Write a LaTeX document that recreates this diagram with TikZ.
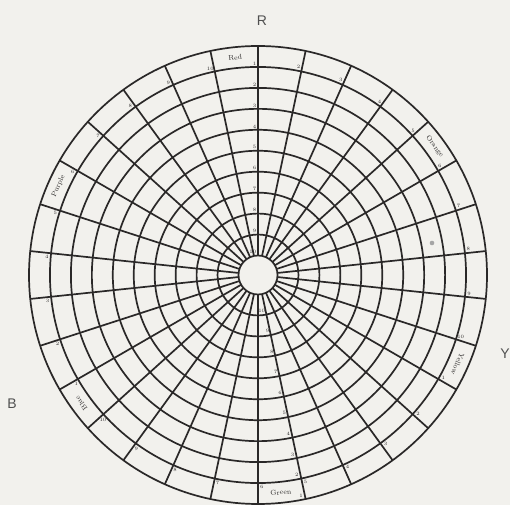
\documentclass[tikz,border=0pt]{standalone}
\usepackage{fontspec}
\newfontfamily\axisfont{Liberation Sans}
\definecolor{bg}{RGB}{242,241,237}
\definecolor{ink}{RGB}{42,40,40}
\definecolor{letter}{RGB}{80,80,80}
\definecolor{speck}{RGB}{165,165,165}
\begin{document}
\begin{tikzpicture}[x=1pt,y=1pt,
  gridline/.style={ink, line width=1.7pt},
  huename/.style={font=\fontsize{7}{7}\selectfont, text=ink, inner sep=0pt},
  num/.style={font=\fontsize{5}{5}\selectfont, text=ink, inner sep=0pt},
  axislabel/.style={font=\axisfont\fontsize{14}{14}\selectfont, text=letter, inner sep=0pt}]
\fill[bg] (0,0) rectangle (510,505);
\useasboundingbox (0,0) rectangle (510,505);
\coordinate (O) at (258,230);
\def\rin{19.5}
\def\rstep{20.95}
% rings
\foreach \k in {0,...,10}
  \draw[gridline] (O) circle ({\rin+\k*\rstep});
% spokes
\foreach \i in {0,...,29}
  \draw[gridline, shift={(O)}] ({6+12*\i}:\rin) -- ({6+12*\i}:229);
% hue names in the outer band
\node[huename, rotate=6]   (red)    at ([shift={(96:218.5)}]O)  {Red};
\node[huename, rotate=-54] (orange) at ([shift={(36:218.5)}]O)  {Orange};
\node[huename, rotate=246] (yellow) at ([shift={(336:218.5)}]O) {Yellow};
\node[huename, rotate=6]   (green)  at ([shift={(276:218.5)}]O) {Green};
\node[huename, rotate=126] (blue)   at ([shift={(216:218.5)}]O) {Blue};
\node[huename, rotate=66]  (purple) at ([shift={(156:218.5)}]O) {Purple};
% ring numbers along the red axis
\foreach \k in {1,...,10}
  \node[num, anchor=south east] (rn\k) at ([shift={(-1.5,{229-\k*\rstep+1.5})}]O) {\k};
% ring numbers along the green axis
\foreach \k in {1,...,10}
  \node[num, anchor=east] (gn\k) at ([shift={(281.5:{229-(\k-1)*\rstep-4})}]O) {\k};
% hue numbers at the second ring
\foreach \j in {1,...,29}{
  \pgfmathtruncatemacro{\n}{mod(\j,10)+1}
  \node[num] (hn\j) at ([shift={({90-12*\j+1}:212)}]O) {\n};
}
% axis letters
\node[axislabel] (R) at (262,484) {R};
\node[axislabel] (Y) at (505,151) {Y};
\node[axislabel] (B) at (12,101) {B};
% small speck
\fill[speck] (432,262) circle (2.3);
\end{tikzpicture}
\end{document}
